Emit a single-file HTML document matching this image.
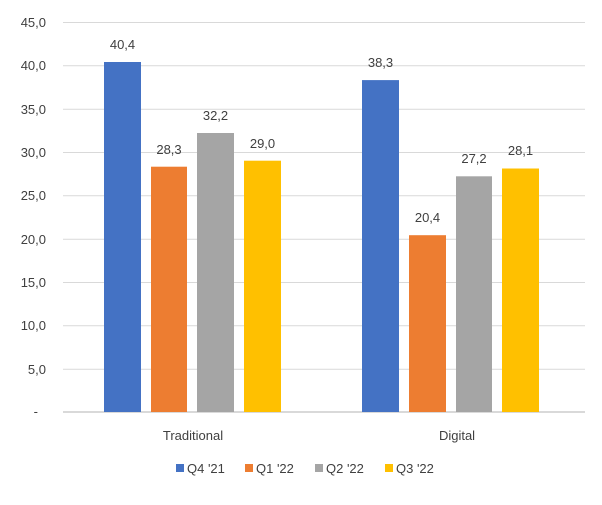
<!DOCTYPE html>
<html><head><style>body{margin:0;background:#fff}svg text{font-family:"Liberation Sans",sans-serif;fill:#404040}</style></head>
<body>
<svg width="602" height="500" xmlns="http://www.w3.org/2000/svg">
<g stroke="#d9d9d9" stroke-width="1">
<line x1="63" x2="585" y1="22.5" y2="22.5"/><line x1="63" x2="585" y1="65.8" y2="65.8"/>
<line x1="63" x2="585" y1="109.2" y2="109.2"/><line x1="63" x2="585" y1="152.5" y2="152.5"/>
<line x1="63" x2="585" y1="195.8" y2="195.8"/><line x1="63" x2="585" y1="239.2" y2="239.2"/>
<line x1="63" x2="585" y1="282.5" y2="282.5"/><line x1="63" x2="585" y1="325.8" y2="325.8"/>
<line x1="63" x2="585" y1="369.2" y2="369.2"/>
</g>
<line x1="63" x2="585" y1="412" y2="412" stroke="#d9d9d9" stroke-width="2"/>
<g font-size="13" text-anchor="end">
<text x="46" y="27">45,0</text><text x="46" y="70">40,0</text><text x="46" y="114">35,0</text>
<text x="46" y="157">30,0</text><text x="46" y="200">25,0</text><text x="46" y="244">20,0</text>
<text x="46" y="287">15,0</text><text x="46" y="330">10,0</text><text x="46" y="374">5,0</text>
<text x="38" y="416">-</text>
</g>
<rect x="104" y="62" width="37" height="350" fill="#4472c4"/>
<rect x="151" y="166.7" width="36" height="245.3" fill="#ed7d31"/>
<rect x="197" y="133" width="37" height="279" fill="#a5a5a5"/>
<rect x="244" y="160.7" width="37" height="251.3" fill="#ffc000"/>
<rect x="362" y="80.1" width="37" height="331.9" fill="#4472c4"/>
<rect x="409" y="235.2" width="37" height="176.8" fill="#ed7d31"/>
<rect x="456" y="176.3" width="36" height="235.7" fill="#a5a5a5"/>
<rect x="502" y="168.5" width="37" height="243.5" fill="#ffc000"/>
<g font-size="13" text-anchor="middle">
<text x="122.5" y="49">40,4</text><text x="169" y="154">28,3</text>
<text x="215.5" y="120">32,2</text><text x="262.5" y="148">29,0</text>
<text x="380.5" y="67">38,3</text><text x="427.5" y="222">20,4</text>
<text x="474" y="163">27,2</text><text x="520.5" y="155">28,1</text>
<text x="193" y="440">Traditional</text><text x="457" y="440">Digital</text>
</g>
<g font-size="13">
<rect x="176" y="464" width="8" height="8" fill="#4472c4"/><text x="187" y="473">Q4 '21</text>
<rect x="245" y="464" width="8" height="8" fill="#ed7d31"/><text x="256" y="473">Q1 '22</text>
<rect x="315" y="464" width="8" height="8" fill="#a5a5a5"/><text x="326" y="473">Q2 '22</text>
<rect x="385" y="464" width="8" height="8" fill="#ffc000"/><text x="396" y="473">Q3 '22</text>
</g>
</svg>
</body></html>
